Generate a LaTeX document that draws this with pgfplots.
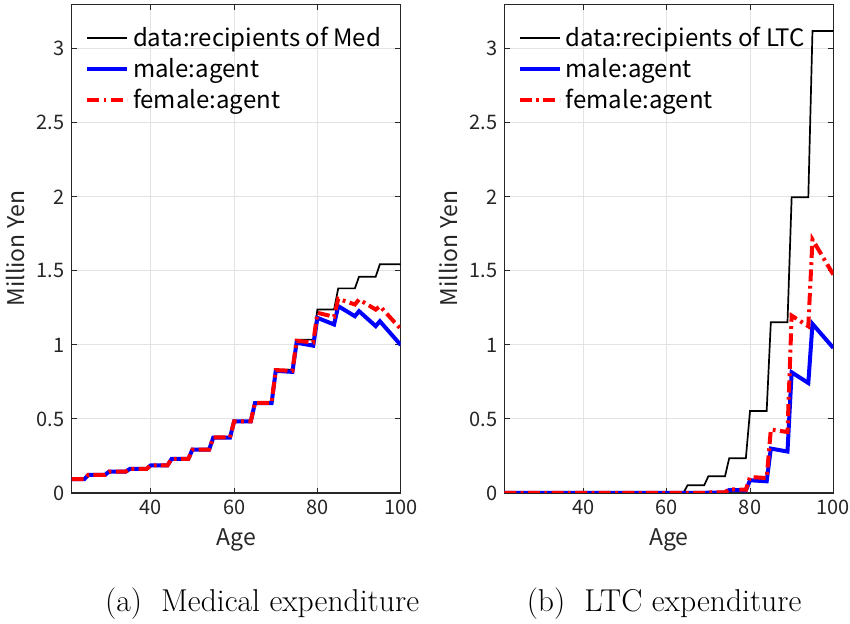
\documentclass[border=0pt]{standalone}
\usepackage{pgfplots}
\pgfplotsset{compat=1.18}
\usepackage{fontspec}
\newfontfamily\jp{Noto Sans CJK JP}
\definecolor{axc}{HTML}{262626}
\definecolor{gridc}{HTML}{E3E3E3}
\pgfplotsset{
  myax/.style={
    scale only axis, width=164.5pt, height=244.3pt,
    xmin=21, xmax=100, ymin=0, ymax=3.3,
    xtick={40,60,80,100}, ytick={0,0.5,1,1.5,2,2.5,3},
    grid=major, major grid style={gridc, line width=0.5pt},
    axis line style={axc, line width=0.55pt},
    tick style={axc, line width=0.5pt}, tick align=inside, major tick length=2.6pt,
    /pgf/number format/assume math mode=true,
    ticklabel style={font=\jp\fontsize{10}{10}\selectfont, text=axc},
    label style={font=\jp\fontsize{11.5}{12}\selectfont, text=axc},
    xlabel={Age}, ylabel={Million Yen},
    xlabel style={yshift=0pt},
    ylabel style={yshift=-1pt},
    legend style={at={(0,1)}, anchor=north west, draw=none, fill=none,
      xshift=5.5pt, yshift=-8pt, font=\jp\fontsize{12}{13}\selectfont,
      row sep=0.4pt, inner sep=1pt},
    legend cell align=left,
    legend image code/.code={\draw[##1] (0pt,0pt) -- (20pt,0pt);},
  },
  dataln/.style={black, line width=0.85pt},
  maleln/.style={blue, line width=2pt},
  femln/.style={red, line width=2pt, dash pattern=on 6pt off 2.2pt on 1.4pt off 2.2pt},
}
\begin{document}
\begin{tikzpicture}
\useasboundingbox (-35.85pt,-65.5pt) rectangle (389.15pt,246.5pt);
\begin{axis}[myax]
\addplot[dataln] coordinates {(21,0.093)(24,0.093)(25,0.122)(29,0.122)(30,0.145)(34,0.145)(35,0.163)(39,0.163)(40,0.188)(44,0.188)(45,0.231)(49,0.231)(50,0.294)(54,0.294)(55,0.376)(59,0.376)(60,0.486)(64,0.486)(65,0.611)(69,0.611)(70,0.832)(74,0.832)(75,1.036)(79,1.036)(80,1.239)(84,1.239)(85,1.382)(89,1.382)(90,1.461)(94,1.461)(95,1.545)(100,1.545)};
\addlegendentry{data:recipients of Med}
\addplot[maleln] coordinates {(21,0.093)(24,0.093)(25,0.122)(29,0.122)(30,0.145)(34,0.145)(35,0.163)(39,0.163)(40,0.187)(44,0.187)(45,0.230)(49,0.230)(50,0.293)(54,0.293)(55,0.374)(59,0.374)(60,0.483)(64,0.483)(65,0.607)(69,0.607)(70,0.825)(74,0.818)(75,1.015)(79,0.995)(80,1.183)(84,1.138)(85,1.262)(89,1.194)(90,1.228)(94,1.127)(95,1.160)(100,1.000)};
\addlegendentry{male:agent}
\addplot[femln] coordinates {(21,0.093)(24,0.093)(25,0.122)(29,0.122)(30,0.145)(34,0.145)(35,0.163)(39,0.163)(40,0.187)(44,0.187)(45,0.230)(49,0.230)(50,0.293)(54,0.293)(55,0.375)(59,0.375)(60,0.484)(64,0.484)(65,0.609)(69,0.609)(70,0.830)(74,0.825)(75,1.028)(79,1.017)(80,1.217)(84,1.190)(85,1.312)(89,1.273)(90,1.307)(94,1.239)(95,1.262)(100,1.108)};
\addlegendentry{female:agent}
\end{axis}
\begin{axis}[myax, xshift=216.3pt]
\addplot[dataln] coordinates {(21,0)(64,0)(65,0.052)(69,0.052)(70,0.113)(74,0.113)(75,0.234)(79,0.234)(80,0.554)(84,0.554)(85,1.153)(89,1.153)(90,1.998)(94,1.998)(95,3.12)(100,3.12)};
\addlegendentry{data:recipients of LTC}
\addplot[maleln] coordinates {(21,0)(69,0)(70,0.003)(74,0.003)(75,0.020)(79,0.018)(80,0.086)(84,0.079)(85,0.300)(89,0.280)(90,0.815)(94,0.743)(95,1.142)(100,0.980)};
\addlegendentry{male:agent}
\addplot[femln] coordinates {(21,0)(69,0)(70,0.005)(74,0.005)(75,0.025)(79,0.022)(80,0.108)(84,0.101)(85,0.428)(89,0.412)(90,1.198)(94,1.126)(95,1.712)(100,1.475)};
\addlegendentry{female:agent}
\end{axis}
\node[anchor=base, font=\fontsize{15.8}{18}\selectfont] at (95.2pt,-59.5pt) {(a)\ \ Medical expenditure};
\node[anchor=base, font=\fontsize{15.8}{18}\selectfont] at (296.2pt,-59.5pt) {(b)\ \ LTC expenditure};
\end{tikzpicture}
\end{document}
